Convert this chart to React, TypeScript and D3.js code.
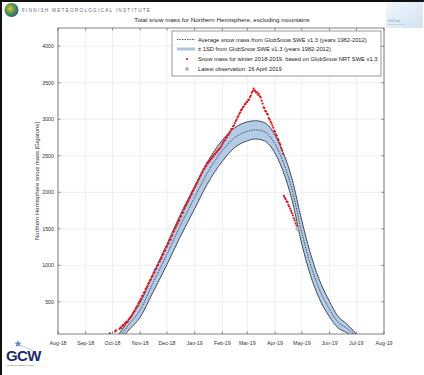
import React from "react";
import * as d3 from "d3";

// month ticks along the x axis
const monthTicks = [
  "2018-08-01", "2018-09-01", "2018-10-01", "2018-11-01", "2018-12-01",
  "2019-01-01", "2019-02-01", "2019-03-01", "2019-04-01", "2019-05-01",
  "2019-06-01", "2019-07-01", "2019-08-01",
];
const yTickValues = [500, 1000, 1500, 2000, 2500, 3000, 3500, 4000];

// climatology 1982-2012 (mean and 1 SD)
const meanDates = [
  "2018-10-06", "2018-10-12", "2018-10-20", "2018-11-01", "2018-11-15",
  "2018-12-01", "2018-12-15", "2019-01-01", "2019-01-15", "2019-02-01",
  "2019-02-15", "2019-03-01", "2019-03-10", "2019-03-20", "2019-04-01",
  "2019-04-10", "2019-04-20", "2019-05-01", "2019-05-10", "2019-05-20",
  "2019-06-01", "2019-06-10", "2019-06-20", "2019-06-28", "2019-07-03",
];
const meanSnow = [
  0, 70, 200, 390, 750, 1150, 1520, 1930, 2260, 2570, 2750, 2835, 2855,
  2830, 2660, 2420, 2040, 1450, 1040, 690, 400, 230, 140, 60, 0,
];
const sdSnow = [
  30, 50, 75, 100, 125, 140, 150, 155, 150, 145, 135, 130, 125, 125, 125,
  130, 145, 160, 150, 130, 105, 80, 60, 40, 20,
];

// winter 2018-2019, daily from obsStart (null = no data)
const obsStart = "2018-09-28";
const obsSnow: (number | null)[] = [
  70, null, null,
  null, null, null, 95, 110, null, null, null, 130, 150, 140, 170, 185, 175, 205, 220,
  230, 225, 255, 270, 285, 300, 320, 345, 365, 380, 410, 430, 450, 480, 500,
  520, 545, 580, 585, 625, 635, 675, 690, 715, 750, 765, 795, 805, 845, 855,
  895, 905, 945, 955, 995, 1005, 1045, 1055, 1085, 1105, 1145, 1155, 1195, 1205, 1245,
  1260, 1295, 1305, 1345, 1355, 1395, 1415, 1455, 1475, 1505, 1525, 1555, 1575, 1605,
  1625, 1665, 1675, 1715, 1725, 1765, 1785, 1815, 1835, 1865, 1885, 1915, 1935, 1965,
  1985, 2015, 2035,
  2065, 2085, 2115, 2135, 2165, 2185, 2215, 2235, 2265, 2285, 2315, 2325, 2355, 2365,
  2395, 2400, 2425, 2430, 2455, 2465, 2485, 2495, 2515, 2525, 2545, 2555, 2575, 2585,
  2600, 2610, 2635,
  2660, 2685, 2705, 2715, 2745, 2755, 2785, 2790, 2815, 2835, 2865, 2870, 2905, 2915,
  2945, 2975, 2995, 3025, 3045, 3075, 3095, 3125, 3140, 3165, 3175, 3205, 3210, 3235,
  3240, 3265, 3270, 3305, 3325, 3365, 3385, 3420, 3395, 3385, 3365, 3370, 3335, 3350,
  3315, 3300, 3255, 3215, 3165, 3155, 3115, 3105, 3075, 3065, 3015, 2995, 2965, 2945,
  2915, 2885, 2845,
  2830, 2795, 2775, 2735, 2715, 2675, 2655, 2605, 2575, 2525, 1950, 1925, 1905, 1875,
  1865, 1825, 1805, 1775, 1745, 1715, 1685, 1645, 1615, 1575, 1545, 1500,
];
const latestObs = "2019-04-26";

const legendLabels = [
  "Average snow mass from GlobSnow SWE v1.3 (years 1982-2012)",
  "\u00b1 1SD from GlobSnow SWE v1.3 (years 1982-2012)",
  "Snow mass for winter 2018-2019, based on GlobSnow NRT SWE v1.3",
  "Latest observation: 26 April 2019",
];

const W = 424;
const H = 375;
const L = 58, R = 384, T = 28, B = 334;
const FONT = "'Liberation Sans', Arial, sans-serif";

const parse = d3.timeParse("%Y-%m-%d");
const fmt = d3.timeFormat("%b-%y");

export default function App() {
  const x = d3.scaleTime()
    .domain([parse("2018-08-01")!, parse("2019-08-01")!])
    .range([L, R]);
  const y = d3.scaleLinear().domain([60, 4250]).range([B, T]);

  const clim = meanDates.map((d, i) => ({
    date: parse(d)!,
    mean: meanSnow[i],
    lo: Math.max(0, meanSnow[i] - sdSnow[i]),
    hi: meanSnow[i] + sdSnow[i],
  }));
  const start = parse(obsStart)!;
  const obs = obsSnow
    .map((v, i) => ({ date: d3.timeDay.offset(start, i), v }))
    .filter((d) => d.v !== null) as { date: Date; v: number }[];
  const last = obs.find((d) => +d.date === +parse(latestObs)!)!;

  const curve = d3.curveMonotoneX;
  const band = d3.area<typeof clim[0]>()
    .x((d) => x(d.date)).y0((d) => y(d.lo)).y1((d) => y(d.hi)).curve(curve);
  const upper = d3.line<typeof clim[0]>()
    .x((d) => x(d.date)).y((d) => y(d.hi)).curve(curve);
  const lower = d3.line<typeof clim[0]>()
    .x((d) => x(d.date)).y((d) => y(d.lo)).curve(curve);
  const meanLine = d3.line<typeof clim[0]>()
    .x((d) => x(d.date)).y((d) => y(d.mean)).curve(curve);

  const months = monthTicks.map((d) => parse(d)!);
  const axisCol = "#4d4d4d";
  const tk = 2.6;

  return (
    <svg width={W} height={H} style={{ position: "absolute", left: 0, top: 0, background: "#fff" }}
      fontFamily={FONT}>
      <defs>
        <clipPath id="plot">
          <rect x={L} y={T} width={R - L} height={B - T} />
        </clipPath>
        <radialGradient id="globe" cx="40%" cy="40%" r="70%">
          <stop offset="0%" stopColor="#e0c23a" />
          <stop offset="45%" stopColor="#5b9a4a" />
          <stop offset="100%" stopColor="#1f4f8f" />
        </radialGradient>
        <linearGradient id="rlogo" x1="0" x2="1" y1="0" y2="1">
          <stop offset="0%" stopColor="#eef4fb" />
          <stop offset="100%" stopColor="#c6dbee" />
        </linearGradient>
      </defs>
      <rect x={0} y={0} width={W} height={H} fill="#fff" />
      <line x1={0} y1={1} x2={W} y2={1} stroke="#111" strokeWidth={2} />
      <line x1={1} y1={0} x2={1} y2={H} stroke="#111" strokeWidth={2} />

      {/* FMI logo */}
      <circle cx={11.5} cy={10} r={7} fill="url(#globe)" />
      <text x={22} y={11.5} fontSize={4.6} fill="#5a6a80" letterSpacing={1.3}>
        FINNISH METEOROLOGICAL INSTITUTE
      </text>
      {/* top-right logo */}
      <rect x={386} y={2} width={37} height={26} fill="url(#rlogo)" opacity={0.8} />
      <text x={388} y={22} fontSize={2.6} fill="#8aa0b8">GlobSnow</text>
      <text x={388} y={25} fontSize={2} fill="#9aadc3">www.globsnow.info</text>

      {/* GCW logo */}
      <path d="M18 340 l1 2.5 2.6 0.2 -2 1.6 0.7 2.6 -2.3 -1.5 -2.3 1.5 0.7 -2.6 -2 -1.6 2.6 -0.2z"
        fill="#6d86c7" />
      <line x1={20} y1={345} x2={34} y2={351} stroke="#9aaad8" strokeWidth={0.6} />
      <text x={6} y={361} fontSize={15} fontWeight="bold" fill="#1d2a6e" letterSpacing={-0.6}>GCW</text>
      <text x={7} y={366} fontSize={2.4} fill="#556">Global Cryosphere Watch</text>

      {/* title */}
      <text x={222} y={22} fontSize={6.2} fill="#222" textAnchor="middle">
        Total snow mass for Northern Hemisphere, excluding mountains
      </text>

      {/* grid */}
      <g stroke="#e4e4e4" strokeWidth={0.6}>
        {months.map((d, i) => (
          <line key={"gx" + i} x1={x(d)} x2={x(d)} y1={T} y2={B} />
        ))}
        {yTickValues.map((v) => (
          <line key={"gy" + v} x1={L} x2={R} y1={y(v)} y2={y(v)} />
        ))}
      </g>

      {/* climatology band */}
      <g clipPath="url(#plot)">
        <path d={band(clim)!} fill="#b3cbe5" />
        <path d={upper(clim)!} fill="none" stroke="#26323f" strokeWidth={0.85} />
        <path d={lower(clim)!} fill="none" stroke="#26323f" strokeWidth={0.85} />
        <path d={meanLine(clim)!} fill="none" stroke="#1d2836" strokeWidth={0.8}
          strokeDasharray="1.4 1.1" />
        {obs.map((d, i) => (
          <circle key={"o" + i} cx={x(d.date)} cy={y(d.v)} r={1.1} fill="#e3161f" />
        ))}
        <circle cx={x(last.date)} cy={y(last.v)} r={1.6} fill="#bbb" stroke="#888" strokeWidth={0.4} />
      </g>

      {/* axes box and ticks */}
      <rect x={L} y={T} width={R - L} height={B - T} fill="none" stroke={axisCol} strokeWidth={0.7} />
      <g stroke={axisCol} strokeWidth={0.6}>
        {months.map((d, i) => (
          <g key={"tx" + i}>
            <line x1={x(d)} x2={x(d)} y1={B} y2={B - tk} />
            <line x1={x(d)} x2={x(d)} y1={T} y2={T + tk} />
          </g>
        ))}
        {yTickValues.map((v) => (
          <g key={"ty" + v}>
            <line x1={L} x2={L + tk} y1={y(v)} y2={y(v)} />
            <line x1={R} x2={R - tk} y1={y(v)} y2={y(v)} />
          </g>
        ))}
      </g>
      <g fontSize={5.3} fill="#333">
        {months.map((d, i) => (
          <text key={"lx" + i} x={x(d)} y={344.5} textAnchor="middle">{fmt(d)}</text>
        ))}
        {yTickValues.map((v) => (
          <text key={"ly" + v} x={L - 4} y={y(v) + 1.8} textAnchor="end">{v}</text>
        ))}
      </g>
      <text transform={`translate(39,${(T + B) / 2}) rotate(-90)`} fontSize={6} fill="#333"
        textAnchor="middle">
        Northern Hemisphere snow mass [Gigatons]
      </text>

      {/* legend */}
      <g>
        <rect x={172} y={31} width={209} height={45} fill="#fff" stroke="#555" strokeWidth={0.6} />
        <line x1={177} x2={195} y1={39.5} y2={39.5} stroke="#1d2836" strokeWidth={0.8}
          strokeDasharray="1.4 1.1" />
        <line x1={177} x2={195} y1={49} y2={49} stroke="#a9c4e0" strokeWidth={3} />
        <circle cx={187} cy={59} r={1.1} fill="#e3161f" />
        <circle cx={187} cy={69} r={1.6} fill="#bbb" stroke="#888" strokeWidth={0.4} />
        {legendLabels.map((t, i) => (
          <text key={"lg" + i} x={198} y={41.5 + i * 9.8} fontSize={5.75} fill="#222">{t}</text>
        ))}
      </g>
    </svg>
  );
}
